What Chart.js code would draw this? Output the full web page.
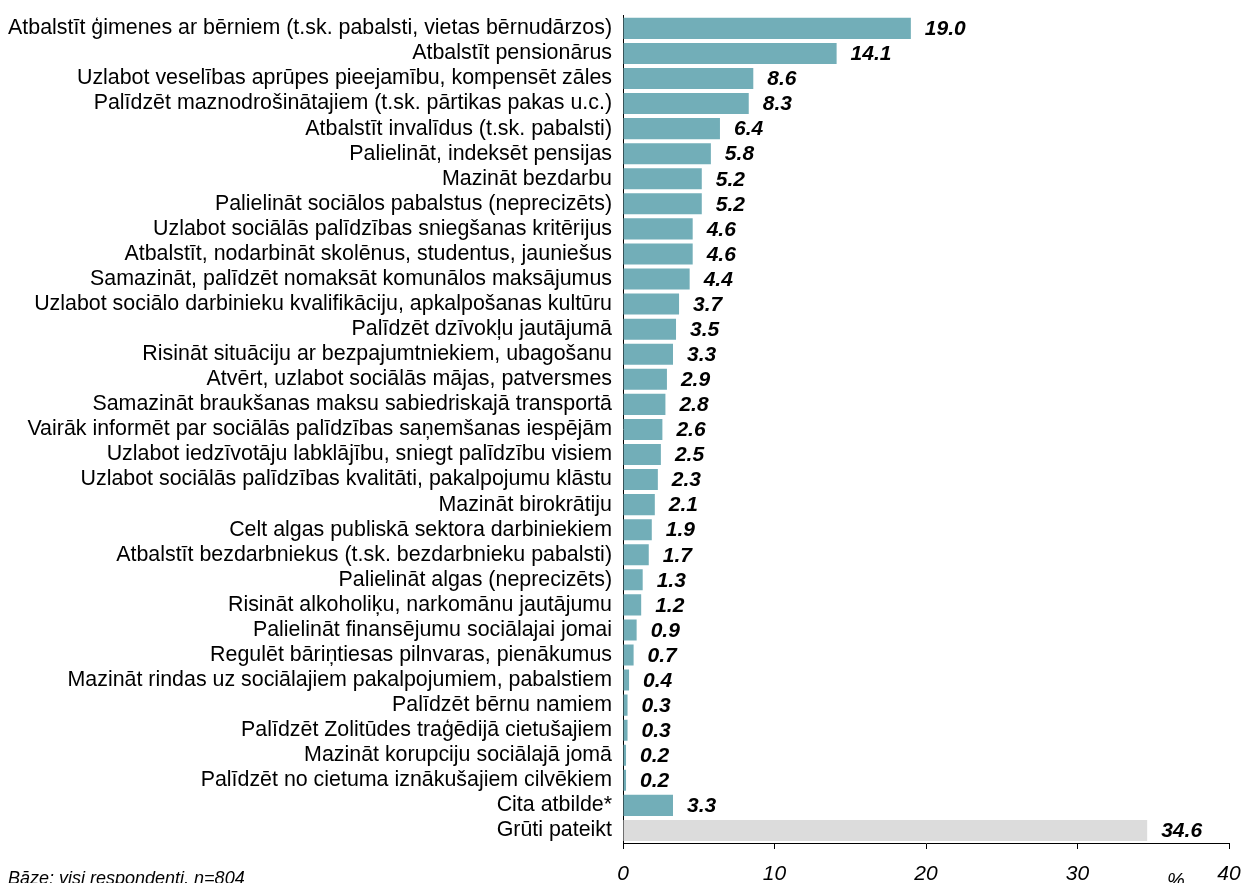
<!DOCTYPE html>
<html>
<head>
<meta charset="utf-8">
<script src="https://cdn.jsdelivr.net/npm/chart.js@4.4.1/dist/chart.umd.min.js"></script>
<style>
  html, body { margin: 0; padding: 0; background: #fff; }
  #wrap { width: 1242px; height: 883px; position: relative; }
</style>
</head>
<body>
<div id="wrap"><canvas id="chart" width="1242" height="883"></canvas></div>
<script>
// categories (top to bottom)
const categories = [
  "Atbalstīt ģimenes ar bērniem (t.sk. pabalsti, vietas bērnudārzos)",
  "Atbalstīt pensionārus",
  "Uzlabot veselības aprūpes pieejamību, kompensēt zāles",
  "Palīdzēt maznodrošinātajiem (t.sk. pārtikas pakas u.c.)",
  "Atbalstīt invalīdus (t.sk. pabalsti)",
  "Palielināt, indeksēt pensijas",
  "Mazināt bezdarbu",
  "Palielināt sociālos pabalstus (neprecizēts)",
  "Uzlabot sociālās palīdzības sniegšanas kritērijus",
  "Atbalstīt, nodarbināt skolēnus, studentus, jauniešus",
  "Samazināt, palīdzēt nomaksāt komunālos maksājumus",
  "Uzlabot sociālo darbinieku kvalifikāciju, apkalpošanas kultūru",
  "Palīdzēt dzīvokļu jautājumā",
  "Risināt situāciju ar bezpajumtniekiem, ubagošanu",
  "Atvērt, uzlabot sociālās mājas, patversmes",
  "Samazināt braukšanas maksu sabiedriskajā transportā",
  "Vairāk informēt par sociālās palīdzības saņemšanas iespējām",
  "Uzlabot iedzīvotāju labklājību, sniegt palīdzību visiem",
  "Uzlabot sociālās palīdzības kvalitāti, pakalpojumu klāstu",
  "Mazināt birokrātiju",
  "Celt algas publiskā sektora darbiniekiem",
  "Atbalstīt bezdarbniekus (t.sk. bezdarbnieku pabalsti)",
  "Palielināt algas (neprecizēts)",
  "Risināt alkoholiķu, narkomānu jautājumu",
  "Palielināt finansējumu sociālajai jomai",
  "Regulēt bāriņtiesas pilnvaras, pienākumus",
  "Mazināt rindas uz sociālajiem pakalpojumiem, pabalstiem",
  "Palīdzēt bērnu namiem",
  "Palīdzēt Zolitūdes traģēdijā cietušajiem",
  "Mazināt korupciju sociālajā jomā",
  "Palīdzēt no cietuma iznākušajiem cilvēkiem",
  "Cita atbilde*",
  "Grūti pateikt"
];

// percent of respondents
const values = [
  19.0, 14.1, 8.6, 8.3, 6.4, 5.8, 5.2, 5.2, 4.6, 4.6, 4.4,
  3.7, 3.5, 3.3, 2.9, 2.8, 2.6, 2.5, 2.3, 2.1, 1.9, 1.7,
  1.3, 1.2, 0.9, 0.7, 0.4, 0.3, 0.3, 0.2, 0.2, 3.3, 34.6
];

const xTicks = [0, 10, 20, 30, 40];
const axisUnit = "%";
const footnote = "Bāze: visi respondenti, n=804";

const TEAL = "#72aeb8";
const GREY = "#dcdcdc";
const barColors = categories.map((c, i) => i === categories.length - 1 ? GREY : TEAL);
const FONT = "'Liberation Sans', Arial, sans-serif";

// value labels next to the bars
const valueLabels = {
  id: 'valueLabels',
  afterDatasetsDraw(chart) {
    const ctx = chart.ctx;
    const meta = chart.getDatasetMeta(0);
    ctx.save();
    ctx.font = "italic bold 21px " + FONT;
    ctx.fillStyle = "#000";
    ctx.textAlign = "left";
    ctx.textBaseline = "middle";
    meta.data.forEach((bar, i) => {
      ctx.fillText(values[i].toFixed(1), bar.x + 14, bar.y + 1);
    });
    ctx.restore();
  }
};

// "%" unit and base note
const extraText = {
  id: 'extraText',
  afterDraw(chart) {
    const ctx = chart.ctx;
    const xs = chart.scales.x;
    ctx.save();
    ctx.fillStyle = "#000";
    ctx.textBaseline = "middle";
    ctx.font = "italic 20px " + FONT;
    ctx.textAlign = "center";
    ctx.fillText(axisUnit, xs.getPixelForValue(36.5), 881);
    ctx.font = "italic 18px " + FONT;
    ctx.textAlign = "left";
    ctx.fillText(footnote, 8, 879);
    ctx.restore();
  }
};

new Chart(document.getElementById("chart").getContext("2d"), {
  type: 'bar',
  data: {
    labels: categories,
    datasets: [{
      data: values,
      backgroundColor: barColors,
      borderWidth: 0,
      barPercentage: 0.84,
      categoryPercentage: 1.0
    }]
  },
  options: {
    indexAxis: 'y',
    responsive: false,
    animation: false,
    layout: { autoPadding: false, padding: { top: 13, left: 0, right: 13, bottom: 0 } },
    plugins: {
      legend: { display: false },
      tooltip: { enabled: false }
    },
    scales: {
      x: {
        min: 0,
        max: 40,
        afterBuildTicks: (scale) => { scale.ticks = xTicks.map(v => ({ value: v })); },
        afterFit: (scale) => {
          scale.height = 40;
          scale.paddingLeft = 0;
          scale.paddingRight = 0;
        },
        grid: { drawOnChartArea: false, drawTicks: true, tickLength: 6, color: "#000" },
        border: { display: true, color: "#000", width: 1 },
        ticks: {
          color: "#000",
          padding: 13,
          maxRotation: 0,
          font: { family: FONT, size: 21, style: 'italic' }
        }
      },
      y: {
        afterFit: (scale) => { scale.width = 623; },
        grid: { display: false },
        border: { display: true, color: "#000", width: 1 },
        ticks: {
          color: "#000",
          padding: 3,
          autoSkip: false,
          font: { family: FONT, size: 21.4 }
        }
      }
    }
  },
  plugins: [valueLabels, extraText]
});
</script>
</body>
</html>
